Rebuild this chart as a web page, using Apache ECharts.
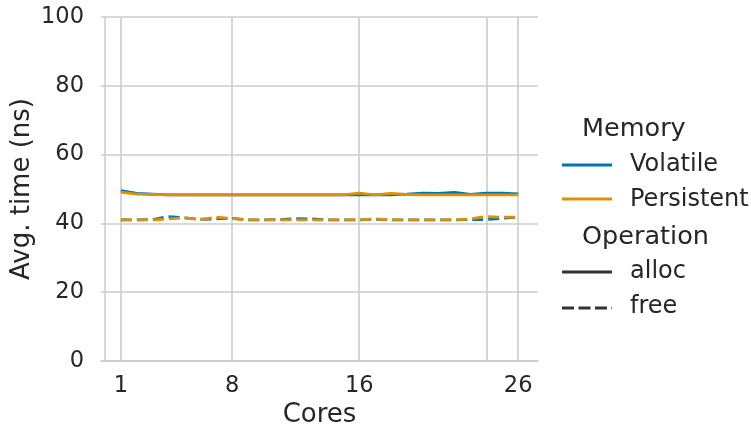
<!DOCTYPE html>
<html>
<head>
<meta charset="utf-8">
<script src="https://cdn.jsdelivr.net/npm/echarts@6/dist/echarts.min.js"></script>
<style>
html,body{margin:0;padding:0;background:#fff;}
#chart{width:751px;height:428px;}
</style>
</head>
<body>
<div id="chart"></div>
<script>
const cores = [1,2,3,4,5,6,7,8,9,10,11,12,13,14,15,16,17,18,19,20,21,22,23,24,25,26];
const xTickLabels = [1, 8, 16, 26];
const xGridValues = [1, 8, 16, 24, 26];
const volatileAlloc = [49.5,48.7,48.5,48.3,48.3,48.3,48.3,48.3,48.3,48.3,48.3,48.3,48.3,48.3,48.3,48.3,48.3,48.3,48.5,48.8,48.7,49.0,48.4,48.8,48.8,48.6];
const persistentAlloc = [49.1,48.5,48.4,48.3,48.3,48.3,48.3,48.3,48.3,48.3,48.3,48.3,48.3,48.3,48.3,48.8,48.3,48.7,48.4,48.3,48.3,48.3,48.3,48.3,48.3,48.3];
const volatileFree = [41.0,41.0,41.1,42.0,41.6,41.2,41.3,41.5,41.0,41.0,41.1,41.4,41.3,41.0,41.0,41.0,41.2,41.0,41.0,41.0,41.0,41.0,41.1,41.1,41.5,41.8];
const persistentFree = [41.0,41.0,41.0,41.3,41.6,41.1,41.8,41.4,41.0,41.0,41.0,41.0,41.0,41.0,41.0,41.0,41.3,41.0,41.0,41.0,41.0,41.0,41.3,42.0,41.8,41.8];
const memoryNames = ['Volatile', 'Persistent'];
const operationNames = ['alloc', 'free'];

const BLUE = '#0173b2', ORANGE = '#de8f05', TXT = '#262626', GRID = '#cccccc';
const FONT = 'DejaVu Sans';
const pairs = (ys) => cores.map((c, i) => [c, ys[i]]);

function mk(name, ys, color, dashed, z) {
  return {
    name: name, type: 'line', data: pairs(ys), symbol: 'none', z: z,
    lineStyle: { color: color, width: 2.8, type: dashed ? [11, 5] : 'solid', cap: 'butt' },
    itemStyle: { color: color }, animation: false
  };
}

function txt(x, y, s, size) {
  return { type: 'text', style: { x: x, y: y, text: s, font: size + 'px "DejaVu Sans"', fill: TXT, verticalAlign: 'middle', align: 'left' } };
}

const chart = echarts.init(document.getElementById('chart'), null, { renderer: 'canvas' });
const legendX = 562, legendTextX = 630;
const leg = [];
leg.push(txt(582, 129, 'Memory', 25.5));
leg.push({ type: 'line', shape: { x1: legendX, y1: 165, x2: legendX + 50, y2: 165 }, style: { stroke: BLUE, lineWidth: 3 } });
leg.push(txt(legendTextX, 165, memoryNames[0], 24));
leg.push({ type: 'line', shape: { x1: legendX, y1: 199, x2: legendX + 50, y2: 199 }, style: { stroke: ORANGE, lineWidth: 3 } });
leg.push(txt(legendTextX, 200, memoryNames[1], 24));
leg.push(txt(582, 237, 'Operation', 25.5));
leg.push({ type: 'line', shape: { x1: legendX, y1: 272, x2: legendX + 50, y2: 272 }, style: { stroke: '#333333', lineWidth: 3 } });
leg.push(txt(legendTextX, 272, operationNames[0], 24));
leg.push({ type: 'line', shape: { x1: legendX, y1: 308, x2: legendX + 50, y2: 308 }, style: { stroke: '#333333', lineWidth: 3, lineDash: [12, 4.5] } });
leg.push(txt(legendTextX, 307, operationNames[1], 24));

chart.setOption({
  backgroundColor: '#ffffff',
  animation: false,
  textStyle: { fontFamily: FONT },
  grid: { left: 101, top: 17, width: 437, height: 344, containLabel: false, outerBoundsMode: 'none' },
  xAxis: {
    type: 'value', min: -0.25, max: 27.25,
    name: 'Cores', nameLocation: 'middle', nameGap: 41, nameMoveOverlap: false,
    nameTextStyle: { fontSize: 26, color: TXT, fontFamily: FONT },
    axisLine: { show: true, onZero: false, lineStyle: { color: GRID, width: 1.5 } },
    axisTick: { show: false, customValues: xGridValues },
    axisLabel: { customValues: xTickLabels, fontSize: 22.5, color: TXT, margin: 14, fontFamily: FONT },
    splitLine: { show: true, lineStyle: { color: GRID, width: 1.6 } }
  },
  yAxis: {
    type: 'value', min: 0, max: 100, interval: 20,
    name: 'Avg. time (ns)', nameLocation: 'middle', nameGap: 66, nameMoveOverlap: false,
    nameTextStyle: { fontSize: 26, color: TXT, fontFamily: FONT },
    axisLine: { show: true, lineStyle: { color: GRID, width: 1.5 } },
    axisTick: { show: false },
    axisLabel: { fontSize: 22.5, color: TXT, margin: 17, fontFamily: FONT },
    splitLine: { show: true, lineStyle: { color: GRID, width: 1.6 } }
  },
  graphic: leg,
  series: [
    mk('Volatile alloc', volatileAlloc, BLUE, false, 2),
    mk('Volatile free', volatileFree, BLUE, true, 2),
    mk('Persistent alloc', persistentAlloc, ORANGE, false, 3),
    mk('Persistent free', persistentFree, ORANGE, true, 3)
  ]
});
</script>
</body>
</html>
